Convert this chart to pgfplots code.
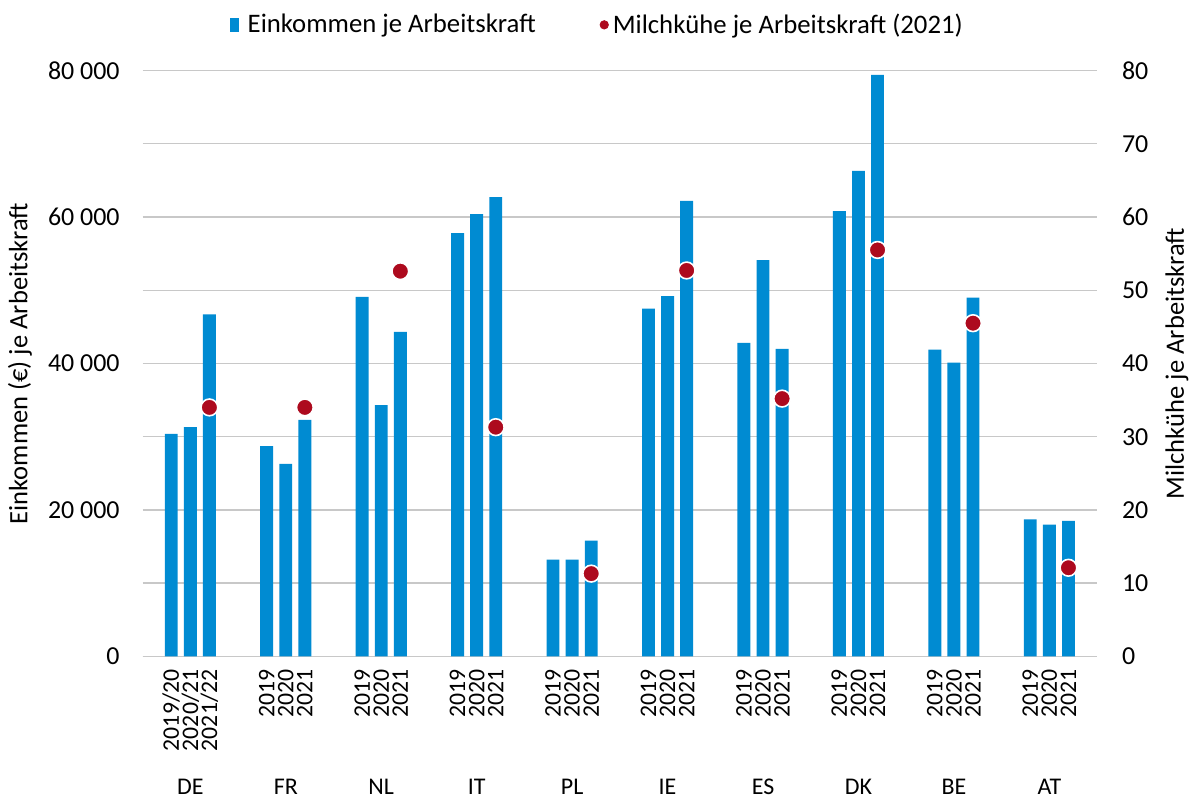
\documentclass[border=0pt]{standalone}
\usepackage{fontspec}
\setmainfont{Carlito}
\usepackage{pgfplots}
\pgfplotsset{compat=1.18}
\definecolor{barblue}{RGB}{0,139,210}
\definecolor{dotred}{RGB}{173,10,30}
\definecolor{gridgrey}{RGB}{200,200,200}
\begin{document}
\begin{tikzpicture}
\begin{axis}[
  name=main,
  scale only axis, width=478.5pt, height=293.7pt,
  xmin=-0.5, xmax=9.5, ymin=0, ymax=80000,
  clip=false,
  scaled y ticks=false,
  axis x line*=bottom, axis y line*=left,
  x axis line style={gridgrey, line width=0.7pt},
  y axis line style={draw=none},
  major tick length=0pt, minor tick length=0pt,
  /pgf/number format/assume math mode=true,
  ytick={0,20000,40000,60000,80000},
  yticklabels={0,20 000,40 000,60 000,80 000},
  minor ytick={10000,30000,50000,70000},
  ymajorgrids, yminorgrids,
  major grid style={gridgrey, line width=0.7pt},
  minor grid style={gridgrey, line width=0.7pt},
  yticklabel style={font=\fontsize{13}{15}\selectfont, xshift=-8pt},
  xtick={-0.2,0,0.2, 0.8,1,1.2, 1.8,2,2.2, 2.8,3,3.2, 3.8,4,4.2, 4.8,5,5.2, 5.8,6,6.2, 6.8,7,7.2, 7.8,8,8.2, 8.8,9,9.2},
  xticklabels={2019/20,2020/21,2021/22, 2019,2020,2021, 2019,2020,2021, 2019,2020,2021, 2019,2020,2021, 2019,2020,2021, 2019,2020,2021, 2019,2020,2021, 2019,2020,2021, 2019,2020,2021},
  xticklabel style={rotate=90, anchor=east, font=\fontsize{11.9}{13}\selectfont, inner sep=1pt, xshift=-5.5pt},
  ylabel={Einkommen (€) je Arbeitskraft},
  ylabel style={at={(axis description cs:-0.1285,0.5)}, anchor=center, font=\fontsize{13.3}{15}\selectfont},
]
\addplot[ybar, bar width=0.135, bar shift=0pt, fill=barblue, draw=none] coordinates {
  (-0.2,30400) (0,31300) (0.2,46700)
  (0.8,28700) (1,26300) (1.2,32300)
  (1.8,49100) (2,34300) (2.2,44300)
  (2.8,57800) (3,60400) (3.2,62700)
  (3.8,13200) (4,13200) (4.2,15800)
  (4.8,47500) (5,49200) (5.2,62200)
  (5.8,42800) (6,54100) (6.2,42000)
  (6.8,60800) (7,66300) (7.2,79400)
  (7.8,41900) (8,40100) (8.2,49000)
  (8.8,18700) (9,18000) (9.2,18500)
};
\path (rel axis cs:-0.1494,-0.2384) rectangle (rel axis cs:1.0993,1.1204);
\end{axis}
\begin{axis}[
  scale only axis, width=478.5pt, height=293.7pt,
  xmin=-0.5, xmax=9.5, ymin=0, ymax=80,
  clip=false,
  axis x line*=bottom, axis y line*=right,
  x axis line style={draw=none}, y axis line style={draw=none},
  major tick length=0pt,
  /pgf/number format/assume math mode=true,
  ytick={0,10,...,80},
  yticklabel style={font=\fontsize{13}{15}\selectfont, xshift=9pt},
  xtick={0,...,9},
  xticklabels={DE,FR,NL,IT,PL,IE,ES,DK,BE,AT},
  xticklabel style={anchor=base, yshift=-69pt, font=\fontsize{12}{14}\selectfont},
  ylabel={Milchkühe je Arbeitskraft},
  ylabel style={at={(axis description cs:1.0836,0.5)}, anchor=center, rotate=0, font=\fontsize{13.3}{15}\selectfont},
  legend style={at={(axis description cs:0.4775,1.078)}, anchor=center, draw=none, fill=none,
    legend columns=2, font=\fontsize{13.4}{15}\selectfont,
    /tikz/every even column/.append style={column sep=30pt}},
]
\addlegendimage{legend image code/.code={\fill[barblue] (0pt,-3.2pt) rectangle (3.9pt,3.2pt); \path (6.5pt,0pt);}}
\addlegendentry{Einkommen je Arbeitskraft}
\addplot[only marks, mark=*, mark size=4.2pt, mark options={fill=dotred, draw=white, line width=0.8pt},
  legend image code/.code={\fill[dotred] (2pt,0pt) circle (2.1pt);}] coordinates {
  (0.2,34.0) (1.2,34.0) (2.2,52.6) (3.2,31.3) (4.2,11.3)
  (5.2,52.7) (6.2,35.2) (7.2,55.5) (8.2,45.5) (9.2,12.1)
};
\addlegendentry{Milchkühe je Arbeitskraft (2021)}
\end{axis}
\end{tikzpicture}
\end{document}
